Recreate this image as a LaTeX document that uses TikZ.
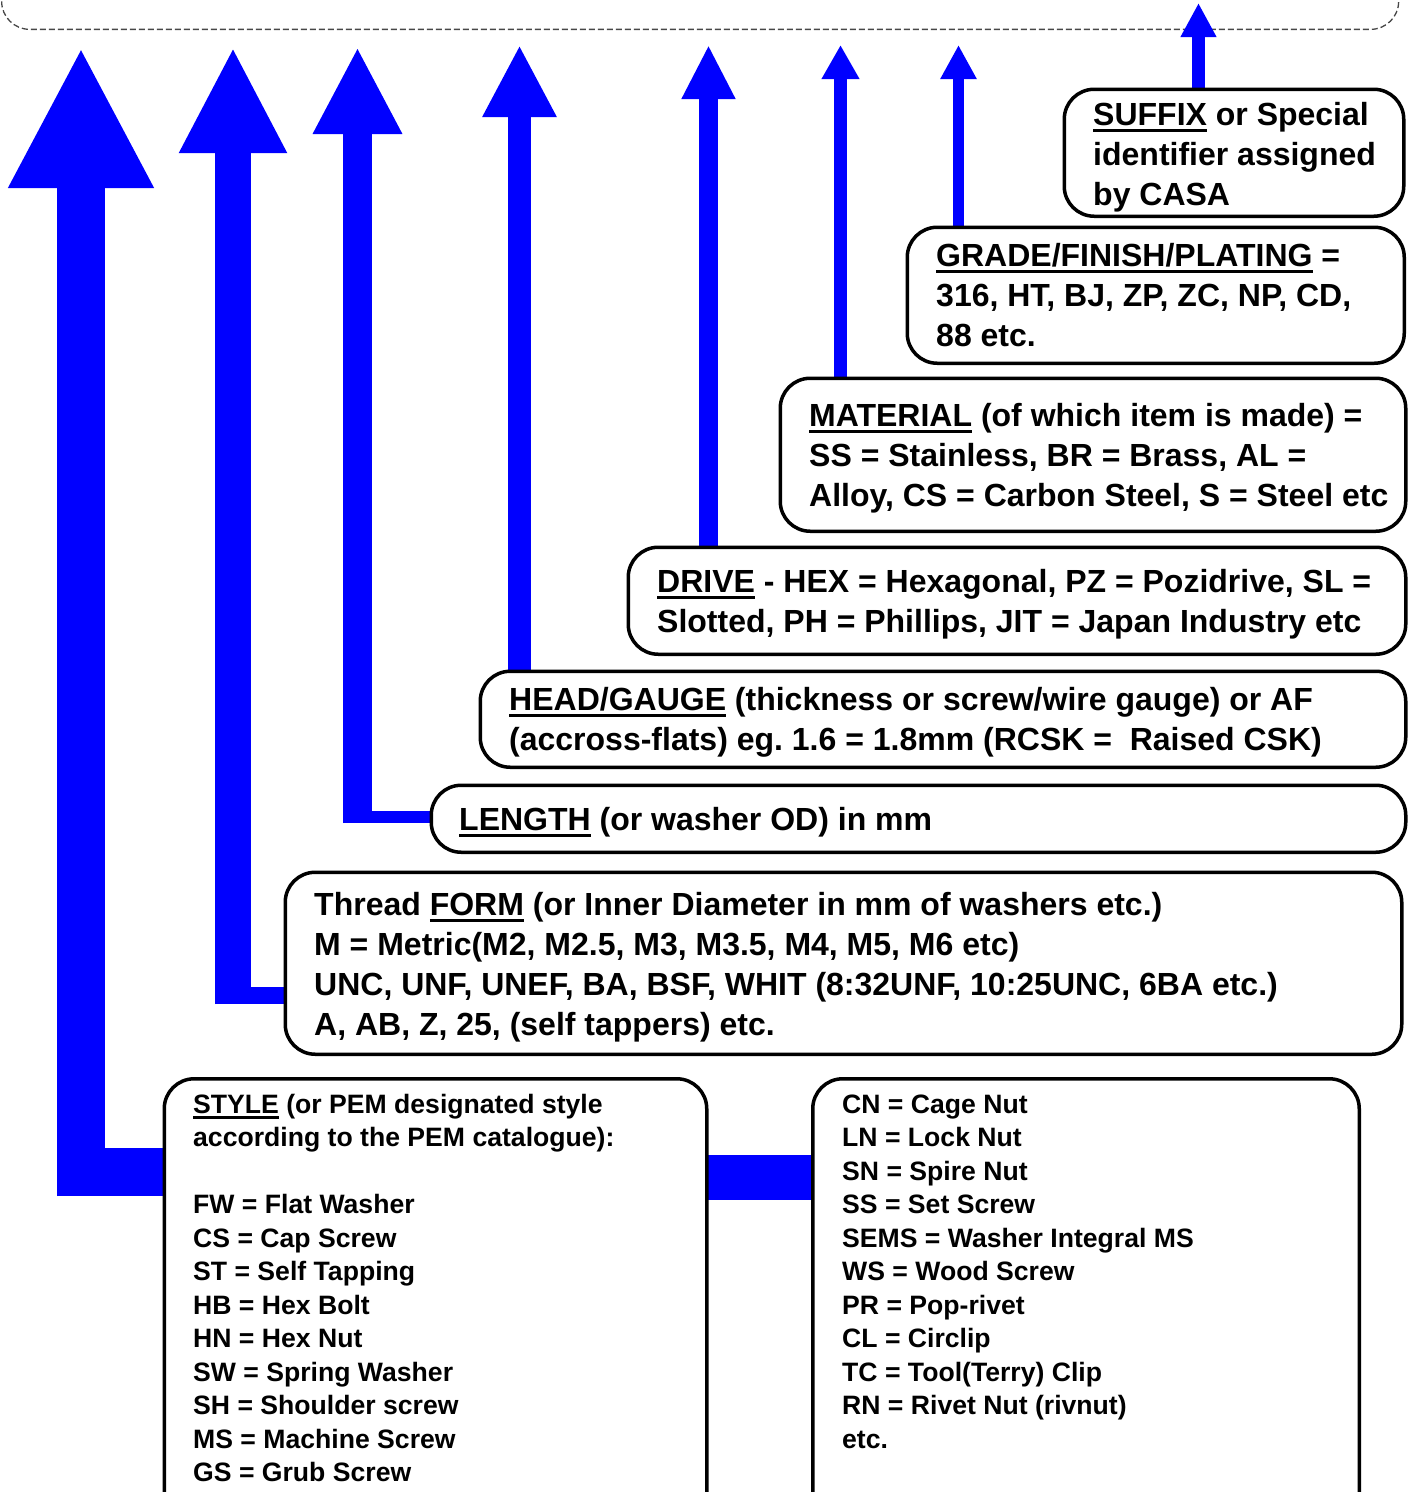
\documentclass[tikz,border=0pt]{standalone}
\usepackage{fontspec}
\setmainfont{Liberation Sans}
\usetikzlibrary{arrows.meta}
\frenchspacing
\definecolor{arrblue}{RGB}{0,0,255}
\newcommand\ulx[1]{\setbox0\hbox{#1}\rlap{\rule[-6.5pt]{\wd0}{3.2pt}}\box0\relax}
\newcommand\ulsm[1]{\setbox0\hbox{#1}\rlap{\rule[-5.5pt]{\wd0}{2.7pt}}\box0\relax}
\newcommand\tsbig{\rule{0pt}{25pt}}
\newcommand\tssmall{\rule{0pt}{21pt}}
\tikzset{
  box/.style={draw=black, line width=3.5pt, rounded corners=30pt, fill=white, inner sep=0pt, anchor=north west},
  bigtxt/.style={inner sep=0pt, anchor=north west, align=left, font=\fontsize{32}{40}\selectfont\bfseries},
  smalltxt/.style={inner sep=0pt, anchor=north west, align=left, font=\fontsize{26.6}{33.5}\selectfont\bfseries},
  hbar/.style={draw=arrblue, line width=#1},
  up/.style n args={3}{draw=arrblue, line width=#1, -{Triangle[width=#2, length=#3]}},
}
\begin{document}
\begin{tikzpicture}[x=1pt,y=-1pt]
\clip (0,0) rectangle (1415,1492);
% dashed code box at top (cut off)
\node[draw=black!72, dash pattern=on 6pt off 3pt, line width=1.3pt, rounded corners=28pt,
      minimum width=1397pt, minimum height=120pt, anchor=south west, inner sep=0pt] (code) at (1,30) {};
% tip coordinates
\coordinate (tS) at (81,47);
\coordinate (tF) at (233,47);
\coordinate (tL) at (357.5,47);
\coordinate (tH) at (519.5,45);
\coordinate (tD) at (708.5,45);
\coordinate (tM) at (840.5,45);
\coordinate (tG) at (958.5,45);
\coordinate (tX) at (1198.5,3);
% corner coordinates
\coordinate (hS) at (57,1172);
\coordinate (vS) at (81,1196);
\coordinate (hF) at (215,995.5);
\coordinate (vF) at (233,1004);
\coordinate (hL) at (343,817);
\coordinate (vL) at (357.5,823);
% arrows first
\draw[hbar=48pt] (165,1172) -- (hS);
\draw[up={48pt}{135pt}{141pt}] (vS) -- (tS);
\draw[hbar=17pt] (286,995.5) -- (hF);
\draw[up={36pt}{100pt}{106pt}] (vF) -- (tF);
\draw[hbar=12pt] (432,817) -- (hL);
\draw[up={29pt}{83pt}{87pt}] (vL) -- (tL);
\draw[up={23pt}{69pt}{72pt}] (519.5,673) -- (tH);
\draw[up={19pt}{50pt}{54pt}] (708.5,549) -- (tD);
\draw[up={13pt}{35.5pt}{34pt}] (840.5,380) -- (tM);
\draw[up={11pt}{34pt}{34pt}] (958.5,229) -- (tG);
\draw[up={13pt}{33.5pt}{34pt}] (1198.5,92) -- (tX);
\draw[hbar=45pt] (703,1177) -- (814,1177);
% boxes
\node[box, minimum width=339.5pt, minimum height=127pt] (suffix) at (1062.5,87.5) {};
\node[box, minimum width=497pt, minimum height=136pt] (grade) at (905.5,225.5) {};
\node[box, minimum width=625.5pt, minimum height=153pt] (material) at (778.5,376.5) {};
\node[box, minimum width=777.5pt, minimum height=107pt] (drive) at (626.5,545.5) {};
\node[box, minimum width=925.5pt, minimum height=96pt] (head) at (478.5,669.5) {};
\node[box, minimum width=974.5pt, minimum height=67pt] (length) at (429.5,783.5) {};
\node[box, minimum width=1116.5pt, minimum height=182pt] (form) at (283.5,870.5) {};
\node[box, minimum width=542.5pt, minimum height=450pt] (style) at (162.5,1077) {};
\node[box, minimum width=546.5pt, minimum height=450pt] (list) at (811,1077) {};
% texts
\node[bigtxt] (suffixT) at (1093,100) {\tsbig\ulx{SUFFIX} or Special\\identifier assigned\\by CASA};
\node[bigtxt] (gradeT) at (936,241) {\tsbig\ulx{GRADE/FINISH/PLATING} =\\316, HT, BJ, ZP, ZC, NP, CD,\\88 etc.};
\node[bigtxt] (materialT) at (809,401) {\tsbig\ulx{MATERIAL} (of which item is made) =\\SS = Stainless, BR = Brass, AL =\\Alloy, CS = Carbon Steel, S = Steel etc};
\node[bigtxt] (driveT) at (657,567) {\tsbig\ulx{DRIVE} - HEX = Hexagonal, PZ = Pozidrive, SL =\\Slotted, PH = Phillips, JIT = Japan Industry etc};
\node[bigtxt] (headT) at (509,685) {\tsbig\ulx{HEAD/GAUGE} (thickness or screw/wire gauge) or AF\\(accross-flats) eg. 1.6 = 1.8mm (RCSK = \ Raised CSK)};
\node[bigtxt] (lengthT) at (459,805) {\tsbig\ulx{LENGTH} (or washer OD) in mm};
\node[bigtxt] (formT) at (314,890) {\tsbig Thread \ulx{FORM} (or Inner Diameter in mm of washers etc.)\\M = Metric(M2, M2.5, M3, M3.5, M4, M5, M6 etc)\\UNC, UNF, UNEF, BA, BSF, WHIT (8:32UNF, 10:25UNC, 6BA etc.)\\A, AB, Z, 25, (self tappers) etc.};
\node[smalltxt] (styleT) at (193,1092) {\tssmall\ulsm{STYLE} (or PEM designated style\\according to the PEM catalogue):\\[33.5pt]FW = Flat Washer\\CS = Cap Screw\\ST = Self Tapping\\HB = Hex Bolt\\HN = Hex Nut\\SW = Spring Washer\\SH = Shoulder screw\\MS = Machine Screw\\GS = Grub Screw};
\node[smalltxt] (listT) at (842,1092) {\tssmall CN = Cage Nut\\LN = Lock Nut\\SN = Spire Nut\\SS = Set Screw\\SEMS = Washer Integral MS\\WS = Wood Screw\\PR = Pop-rivet\\CL = Circlip\\TC = Tool(Terry) Clip\\RN = Rivet Nut (rivnut)\\etc.};
\end{tikzpicture}
\end{document}
